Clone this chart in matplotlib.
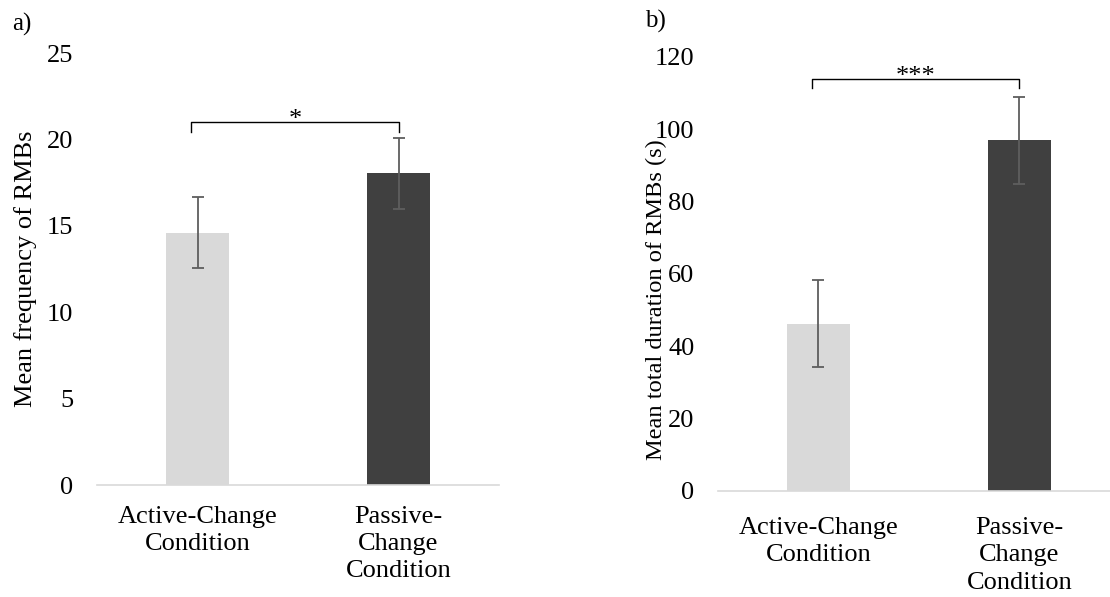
import matplotlib
matplotlib.use('Agg')
import matplotlib.pyplot as plt
import numpy as np

plt.rcParams['font.family'] = ['Liberation Serif', 'DejaVu Serif']

# data
conditions = ['Active-Change\nCondition', 'Passive-\nChange\nCondition']
freq_means = [14.6, 18.05]
freq_errs = [2.05, 2.05]
dur_means = [46.3, 97.0]
dur_errs = [12.0, 12.0]
freq_ticks = [0, 5, 10, 15, 20, 25]
dur_ticks = [0, 20, 40, 60, 80, 100, 120]

bar_colors = ['#D9D9D9', '#404040']
err_color = '#5E5E5E'
FS = 19


def draw_panel(ax, means, errs, ticks, ylabel, ylabel_fs, xpad, sig, bracket_y, leg_y, star_y):
    x = np.arange(len(means))
    ax.bar(x, means, width=0.313, color=bar_colors, zorder=2)
    ax.errorbar(x, means, yerr=errs, fmt='none', ecolor=err_color,
                elinewidth=1.3, capsize=4.3, capthick=1.3, zorder=3)
    ax.set_xlim(-0.5, 1.5)
    ax.set_ylim(ticks[0], ticks[-1])
    ax.set_yticks(ticks)
    ax.set_xticks(x)
    ax.set_xticklabels(conditions, linespacing=1.3)
    ax.tick_params(axis='y', length=0, pad=17, labelsize=FS)
    ax.tick_params(axis='x', length=0, pad=xpad, labelsize=FS)
    for s in ['top', 'right', 'left']:
        ax.spines[s].set_visible(False)
    ax.spines['bottom'].set_color('#D9D9D9')
    ax.spines['bottom'].set_linewidth(1.2)
    ax.set_ylabel(ylabel, fontsize=ylabel_fs)

    # significance bracket
    bx = [-0.03, -0.03, 1.0, 1.0]
    by = [leg_y, bracket_y, bracket_y, leg_y]
    ax.plot(bx, by, color='black', lw=1.0, clip_on=False, zorder=4)
    ax.text(0.485, star_y, sig, ha='center', va='baseline', fontsize=FS)


fig = plt.figure(figsize=(11.1, 5.97), dpi=100)
ax1 = fig.add_axes([0.0874, 0.1876, 0.3622, 0.7236])
ax2 = fig.add_axes([0.6468, 0.1776, 0.3622, 0.727])

draw_panel(ax1, freq_means, freq_errs, freq_ticks, 'Mean frequency of RMBs', 19, 15,
           '*', 21.0, 20.4, 20.75)
ax1.yaxis.set_label_coords(-0.149, 0.5)

draw_panel(ax2, dur_means, dur_errs, dur_ticks, 'Mean total duration of RMBs (s)', 17.6, 19,
           '***', 113.9, 111.4, 112.8)
ax2.yaxis.set_label_coords(-0.127, 0.44)

fig.text(12 / 1110, 1 - 24 / 597, 'a)', fontsize=18, ha='left', va='center')
fig.text(645 / 1110, 1 - 21 / 597, 'b)', fontsize=18, ha='left', va='center')

fig.savefig('out.png', dpi=100)
